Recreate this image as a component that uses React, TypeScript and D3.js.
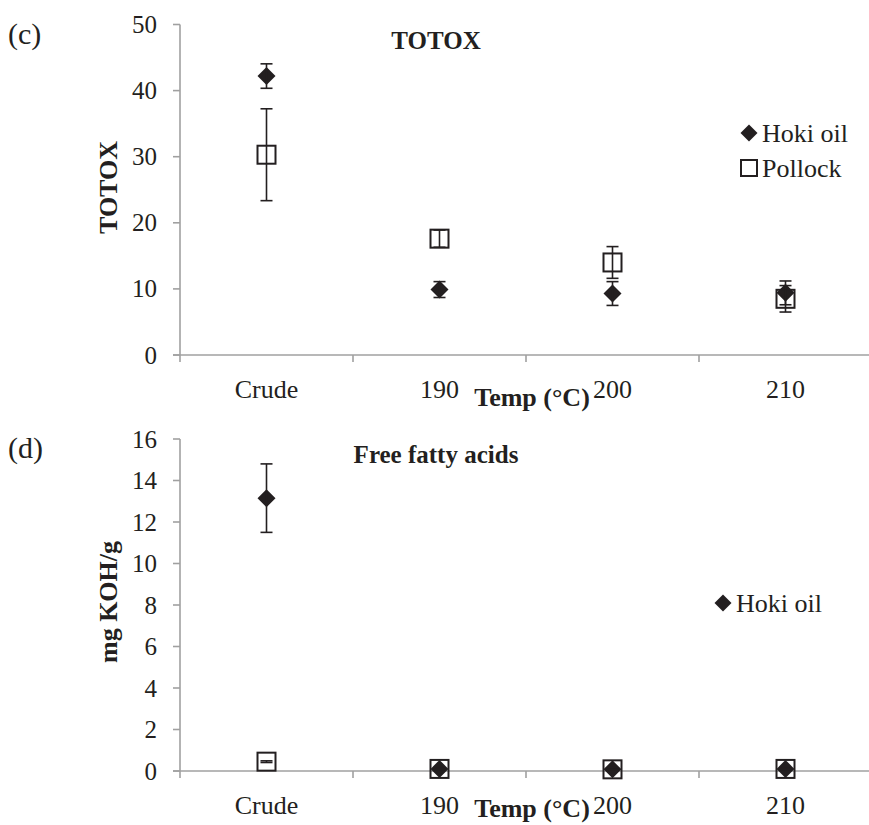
import React from 'react'
import * as d3 from 'd3'

const categories = ['Crude', '190', '200', '210']

// TOTOX panel (c)
const totoxHoki = [42.2, 9.9, 9.3, 9.4]
const totoxHokiErr = [1.85, 1.2, 1.8, 1.8]
const totoxPollock = [30.3, 17.6, 14.0, 8.5]
const totoxPollockErr = [6.95, 1.3, 2.4, 2.0]
const totoxTicks = [0, 10, 20, 30, 40, 50]

// Free fatty acids panel (d)
const ffaHoki = [13.15, 0.1, 0.08, 0.1]
const ffaHokiErr = [1.65, 0.02, 0.02, 0.02]
const ffaPollock = [0.45, 0.1, 0.08, 0.1]
const ffaPollockErr = [0.04, 0.02, 0.02, 0.02]
const ffaTicks = [0, 2, 4, 6, 8, 10, 12, 14, 16]

const INK = '#231f20'
const AXIS = '#a0a0a0'
const FONT = '"Liberation Serif", "Times New Roman", serif'

const x = d3.scaleBand<string>().domain(categories).range([180, 872]).padding(0)
const cx = (c: string) => (x(c) as number) + x.bandwidth() / 2

const diamond = (s: number) => `M0,${-s}L${s},0L0,${s}L${-s},0Z`

function ErrorBar({ px, y0, y1 }: { px: number; y0: number; y1: number }) {
  return (
    <g stroke={INK} strokeWidth={1.6}>
      <line x1={px} x2={px} y1={y0} y2={y1} />
      <line x1={px - 6} x2={px + 6} y1={y0} y2={y0} />
      <line x1={px - 6} x2={px + 6} y1={y1} y2={y1} />
    </g>
  )
}

function Panel({ tag, title, yLabel, ticks, yTop, yBottom, tempDy, hoki, hokiErr, pollock, pollockErr, legend }: any) {
  const max = ticks[ticks.length - 1]
  const y = d3.scaleLinear().domain([0, max]).range([yBottom, yTop])
  return (
    <g fontFamily={FONT} fill={INK}>
      <text x={8} y={yTop + 19} fontSize={30}>{tag}</text>
      <text x={436} y={yTop + 24} fontSize={25} fontWeight="bold" textAnchor="middle">{title}</text>
      <text transform={`translate(117,${yTop + 163}) rotate(-90)`} fontSize={26} fontWeight="bold" textAnchor="middle">{yLabel}</text>

      {/* y axis */}
      <line x1={180} x2={180} y1={yTop} y2={yBottom} stroke={AXIS} strokeWidth={1.6} />
      {ticks.map((t: number) => (
        <g key={t}>
          <line x1={173} x2={180} y1={y(t)} y2={y(t)} stroke={AXIS} strokeWidth={1.6} />
          <text x={157} y={y(t)} dy="0.34em" fontSize={25} textAnchor="end">{t}</text>
        </g>
      ))}

      {/* x axis */}
      <line x1={173} x2={872} y1={yBottom} y2={yBottom} stroke={AXIS} strokeWidth={1.6} />
      {[...categories.map(c => x(c) as number), 872].map((v, i) => (
        <line key={i} x1={v} x2={v} y1={yBottom} y2={yBottom + 7} stroke={AXIS} strokeWidth={1.6} />
      ))}
      {categories.map(c => (
        <text key={c} x={cx(c)} y={yBottom + 34} dy="0.34em" fontSize={26} textAnchor="middle">{c}</text>
      ))}
      <text x={532} y={yBottom + tempDy} dy="0.34em" fontSize={26} fontWeight="bold" textAnchor="middle">Temp (°C)</text>

      {/* Hoki oil */}
      {categories.map((c, i) => (
        <path key={'h' + c} d={diamond(9)} transform={`translate(${cx(c)},${y(hoki[i])})`} fill={INK} />
      ))}
      {/* Pollock */}
      {categories.map((c, i) => (
        <rect key={'p' + c} x={cx(c) - 9} y={y(pollock[i]) - 9} width={18} height={18} fill="none" stroke={INK} strokeWidth={2} />
      ))}
      {categories.map((c, i) => (
        <ErrorBar key={'he' + c} px={cx(c)} y0={y(hoki[i] + hokiErr[i])} y1={y(hoki[i] - hokiErr[i])} />
      ))}
      {categories.map((c, i) => (
        <ErrorBar key={'pe' + c} px={cx(c)} y0={y(pollock[i] + pollockErr[i])} y1={y(pollock[i] - pollockErr[i])} />
      ))}

      {/* legend */}
      {legend.map((l: any, i: number) => (
        <g key={l.name} transform={`translate(${l.x},${l.y + i * 35})`}>
          {l.shape === 'diamond'
            ? <path d={diamond(8.5)} fill={INK} />
            : <rect x={-8} y={-8} width={16} height={16} fill="none" stroke={INK} strokeWidth={2} />}
          <text x={13} dy="0.34em" fontSize={26}>{l.name}</text>
        </g>
      ))}
    </g>
  )
}

export default function App() {
  return (
    <svg width={869} height={825} style={{ position: 'absolute', left: 0, top: 0, background: '#fff' }}>
      <Panel
        tag="(c)" title="TOTOX" yLabel="TOTOX" ticks={totoxTicks} yTop={24.5} yBottom={355} tempDy={42}
        hoki={totoxHoki} hokiErr={totoxHokiErr} pollock={totoxPollock} pollockErr={totoxPollockErr}
        legend={[{ name: 'Hoki oil', shape: 'diamond', x: 749, y: 133 }, { name: 'Pollock', shape: 'square', x: 749, y: 133 }]}
      />
      <Panel
        tag="(d)" title="Free fatty acids" yLabel="mg KOH/g" ticks={ffaTicks} yTop={439} yBottom={771} tempDy={37}
        hoki={ffaHoki} hokiErr={ffaHokiErr} pollock={ffaPollock} pollockErr={ffaPollockErr}
        legend={[{ name: 'Hoki oil', shape: 'diamond', x: 723, y: 603 }]}
      />
    </svg>
  )
}
